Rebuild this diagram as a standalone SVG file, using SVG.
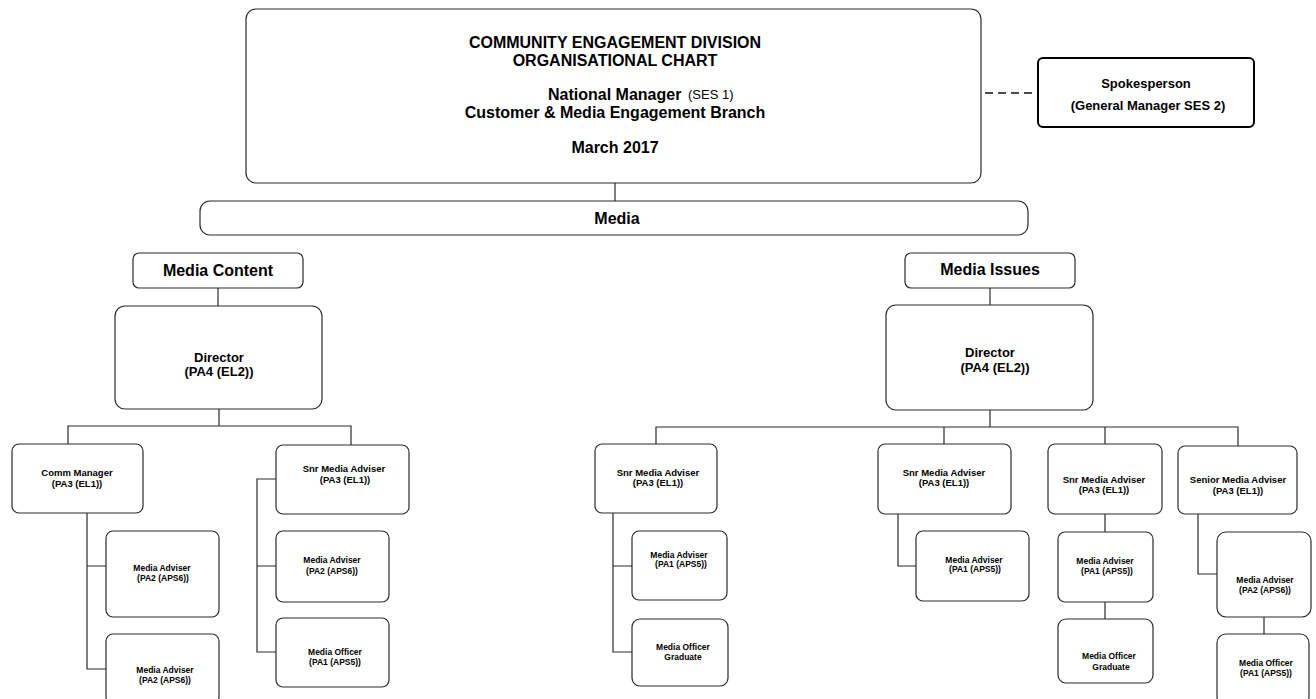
<svg xmlns="http://www.w3.org/2000/svg" width="1316" height="699" viewBox="0 0 1316 699">
<style>
.bx{fill:#fff;stroke:#2a2a2a;stroke-width:1.2}
.cn{fill:none;stroke:#2a2a2a;stroke-width:1.2}
text{font-family:"Liberation Sans",Arial,sans-serif;font-weight:bold;fill:#000;text-anchor:middle}
.t16{font-size:16px}
.t13{font-size:13px}
.t95{font-size:9.5px}
.t85{font-size:8.5px}
</style>
<rect width="1316" height="699" fill="#fff"/>
<g id="connectors">
<path class="cn" d="M615,183V201"/>
<path d="M985,93H1037" fill="none" stroke="#111" stroke-width="1.4" stroke-dasharray="8,5"/>
<path class="cn" d="M218,288V306"/>
<path class="cn" d="M219,409V426M68,444V426H351V445"/>
<path class="cn" d="M87,513V669H106M87,566H106"/>
<path class="cn" d="M276,479H257V652H276M257,566H276"/>
<path class="cn" d="M990,288V305"/>
<path class="cn" d="M990,410V427M656,444V427H1238V446M944,427V444M1105,427V444"/>
<path class="cn" d="M613,513V652H632M613,566H632"/>
<path class="cn" d="M898,514V566H916"/>
<path class="cn" d="M1105,514V532M1105,602V619"/>
<path class="cn" d="M1198,514V574H1217M1264,617V634"/>
</g>
<g id="top">
<rect class="bx" x="246" y="9" width="735" height="174" rx="10"/>
<text class="t16" x="615" y="48">COMMUNITY ENGAGEMENT DIVISION</text>
<text class="t16" x="615" y="66">ORGANISATIONAL CHART</text>
<text class="t16" x="548" y="100" style="text-anchor:start">National Manager</text>
<text x="688" y="99" style="text-anchor:start;font-weight:normal;font-size:13px">(SES 1)</text>
<text class="t16" x="615" y="118">Customer &amp; Media Engagement Branch</text>
<text class="t16" x="615" y="153">March 2017</text>
</g>
<g id="spokesperson">
<rect x="1038" y="58" width="216" height="69" rx="5" fill="#fff" stroke="#000" stroke-width="2"/>
<text class="t13" x="1146" y="88">Spokesperson</text>
<text class="t13" x="1148" y="110">(General Manager SES 2)</text>
</g>
<g id="media">
<rect class="bx" x="200" y="201" width="828" height="34" rx="10" stroke-width="1.6"/>
<text class="t16" x="617" y="224">Media</text>
</g>
<g id="media-content">
<rect class="bx" x="133" y="253" width="170" height="35" rx="6"/>
<text class="t16" x="218" y="276">Media Content</text>
</g>
<g id="director-left">
<rect class="bx" x="115" y="306" width="207" height="103" rx="10"/>
<text class="t13" x="219" y="362">Director</text>
<text class="t13" x="219" y="376">(PA4 (EL2))</text>
</g>
<g id="comm-manager">
<rect class="bx" x="12" y="444" width="131" height="69" rx="7"/>
<text class="t95" x="77" y="476">Comm Manager</text>
<text class="t95" x="77" y="487">(PA3 (EL1))</text>
</g>
<g id="media-adviser-l1">
<rect class="bx" x="106" y="531" width="113" height="86" rx="7"/>
<text class="t85" x="162" y="571">Media Adviser</text>
<text class="t85" x="163" y="581">(PA2 (APS6))</text>
</g>
<g id="media-adviser-l2">
<rect class="bx" x="106" y="634" width="113" height="70" rx="7"/>
<text class="t85" x="165" y="673">Media Adviser</text>
<text class="t85" x="165" y="683">(PA2 (APS6))</text>
</g>
<g id="snr-media-adviser-l">
<rect class="bx" x="276" y="445" width="133" height="69" rx="7"/>
<text class="t95" x="344" y="472">Snr Media Adviser</text>
<text class="t95" x="345" y="483">(PA3 (EL1))</text>
</g>
<g id="media-adviser-l3">
<rect class="bx" x="276" y="531" width="113" height="71" rx="7"/>
<text class="t85" x="332" y="563">Media Adviser</text>
<text class="t85" x="332" y="574">(PA2 (APS6))</text>
</g>
<g id="media-officer-l">
<rect class="bx" x="276" y="618" width="113" height="69" rx="7"/>
<text class="t85" x="335" y="655">Media Officer</text>
<text class="t85" x="335" y="665">(PA1 (APS5))</text>
</g>
<g id="media-issues">
<rect class="bx" x="905" y="253" width="170" height="35" rx="6"/>
<text class="t16" x="990" y="275">Media Issues</text>
</g>
<g id="director-right">
<rect class="bx" x="886" y="305" width="207" height="105" rx="10"/>
<text class="t13" x="990" y="357">Director</text>
<text class="t13" x="995" y="372">(PA4 (EL2))</text>
</g>
<g id="snr-media-adviser-r1">
<rect class="bx" x="595" y="444" width="122" height="69" rx="7"/>
<text class="t95" x="658" y="476">Snr Media Adviser</text>
<text class="t95" x="658" y="486">(PA3 (EL1))</text>
</g>
<g id="media-adviser-r1">
<rect class="bx" x="632" y="531" width="95" height="69" rx="7"/>
<text class="t85" x="679" y="558">Media Adviser</text>
<text class="t85" x="681" y="567">(PA1 (APS5))</text>
</g>
<g id="media-officer-grad-r1">
<rect class="bx" x="632" y="619" width="96" height="67" rx="8"/>
<text class="t85" x="683" y="650">Media Officer</text>
<text class="t85" x="683" y="660">Graduate</text>
</g>
<g id="snr-media-adviser-r2">
<rect class="bx" x="878" y="444" width="133" height="70" rx="7"/>
<text class="t95" x="944" y="476">Snr Media Adviser</text>
<text class="t95" x="944" y="486">(PA3 (EL1))</text>
</g>
<g id="media-adviser-r2">
<rect class="bx" x="916" y="531" width="113" height="70" rx="7"/>
<text class="t85" x="974" y="563">Media Adviser</text>
<text class="t85" x="975" y="572">(PA1 (APS5))</text>
</g>
<g id="snr-media-adviser-r3">
<rect class="bx" x="1048" y="444" width="114" height="70" rx="7"/>
<text class="t95" x="1104" y="483">Snr Media Adviser</text>
<text class="t95" x="1104" y="493">(PA3 (EL1))</text>
</g>
<g id="media-adviser-r3">
<rect class="bx" x="1058" y="532" width="95" height="70" rx="7"/>
<text class="t85" x="1105" y="564">Media Adviser</text>
<text class="t85" x="1107" y="574">(PA1 (APS5))</text>
</g>
<g id="media-officer-grad-r3">
<rect class="bx" x="1058" y="619" width="95" height="64" rx="8"/>
<text class="t85" x="1109" y="659">Media Officer</text>
<text class="t85" x="1111" y="670">Graduate</text>
</g>
<g id="senior-media-adviser">
<rect class="bx" x="1178" y="446" width="119" height="68" rx="7"/>
<text class="t95" x="1238" y="483">Senior Media Adviser</text>
<text class="t95" x="1238" y="494">(PA3 (EL1))</text>
</g>
<g id="media-adviser-r4">
<rect class="bx" x="1217" y="532" width="94" height="85" rx="9"/>
<text class="t85" x="1265" y="583">Media Adviser</text>
<text class="t85" x="1265" y="593">(PA2 (APS6))</text>
</g>
<g id="media-officer-r4">
<rect class="bx" x="1217" y="634" width="92" height="72" rx="9"/>
<text class="t85" x="1266" y="666">Media Officer</text>
<text class="t85" x="1266" y="676">(PA1 (APS5))</text>
</g>
</svg>
